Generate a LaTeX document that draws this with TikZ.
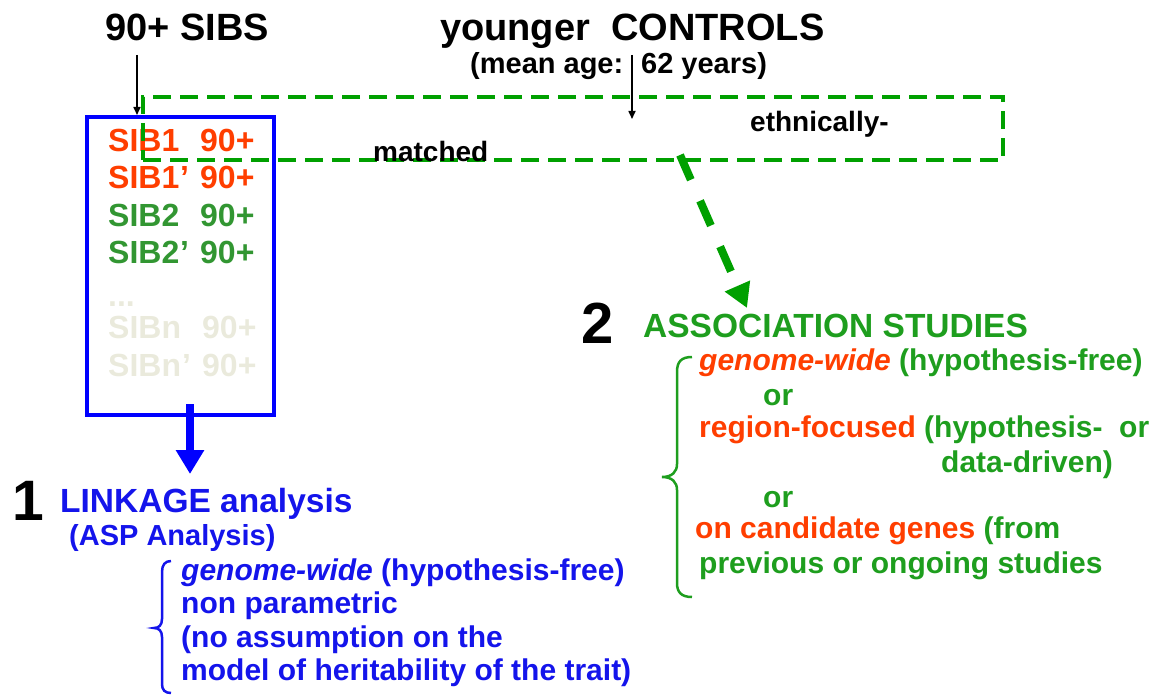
\documentclass[tikz,border=0pt]{standalone}
\usepackage{fontspec}
\setmainfont{Liberation Sans}
\usetikzlibrary{arrows.meta}
\definecolor{sibred}{RGB}{255,62,0}
\definecolor{sibgreen}{RGB}{50,150,50}
\definecolor{faded}{RGB}{234,234,220}
\definecolor{assocgreen}{RGB}{30,158,30}
\definecolor{dashgreen}{RGB}{0,160,0}
\definecolor{linkblue}{RGB}{20,20,235}
\newcommand{\fs}[1]{\fontsize{#1}{#1}\selectfont\bfseries}
\tikzset{
  tx/.style={inner sep=0pt, anchor=base west},
  sib/.style={tx, font=\fs{32}},
  rline/.style={tx, font=\fs{30}, text=assocgreen},
  lline/.style={tx, font=\fs{30}, text=linkblue},
  blackarrow/.style={draw=black, line width=1.6pt, -{Triangle[width=7pt,length=8pt]}},
}
\begin{document}
\begin{tikzpicture}[x=1pt,y=-1pt]
\useasboundingbox (0,0) rectangle (1154,695);
% titles
\node[tx, font=\fs{38}] (sibs) at (105,41) {90+ SIBS};
\node[tx, font=\fs{38}] (ctrl) at (440,41) {younger\ \ CONTROLS};
\node[tx, font=\fs{29}] (mean1) at (470,74) {(mean age:};
\node[tx, font=\fs{29}] (mean2) at (641,74) {62 years)};
% blue box
\node[draw=blue, line width=4pt, minimum width=187pt, minimum height=298pt, inner sep=0pt] (box) at (180.5,266) {};
% SIB lines
\node[sib, text=sibred] (s1) at (108,151.5) {\makebox[92pt][l]{SIB1}90+};
\node[sib, text=sibred] (s1p) at (108,188.5) {\makebox[72pt][l]{SIB1}\makebox[20pt][l]{’}90+};
\node[sib, text=sibgreen] (s2) at (108,226.5) {\makebox[92pt][l]{SIB2}90+};
\node[sib, text=sibgreen] (s2p) at (108,263.5) {\makebox[72pt][l]{SIB2}\makebox[20pt][l]{’}90+};
\node[sib, text=faded] (dots) at (108,306) {...};
\node[sib, text=faded] (sn) at (108,338.5) {\makebox[94pt][l]{SIBn}90+};
\node[sib, text=faded] (snp) at (108,376.5) {\makebox[74pt][l]{SIBn}\makebox[20pt][l]{’}90+};
% green dashed rectangle
\node[draw=dashgreen, line width=4pt, dash pattern=on 18pt off 9pt, minimum width=860pt, minimum height=63pt, inner sep=0pt] (match) at (573,128.5) {};
\node[tx, font=\fs{28}] (eth) at (750,132) {ethnically-};
\node[tx, font=\fs{28}] (mat) at (373,162) {matched};
% black arrows
\coordinate (a1) at (137,55);
\draw[blackarrow] (a1) -- (a1 |- box.north);
\coordinate (c1) at (632,55);
\coordinate (c2) at (632,119);
\draw[blackarrow] (c1) -- (c2);
% association
\node[tx, font=\fs{58}] (two) at (581,343) {2};
\node[tx, font=\fs{33.5}, text=assocgreen] (assoc) at (643,337) {ASSOCIATION STUDIES};
\coordinate (g1) at (680,155);
\coordinate (g2) at (747,308);
\draw[draw=dashgreen, line width=8pt, dash pattern=on 27pt off 23pt, -{Triangle[width=26pt,length=24pt,fill=dashgreen]}] (g1) -- (g2);
\node[rline] (r1) at (699,370) {\textcolor{sibred}{\itshape genome-wide} (hypothesis-free)};
\node[rline] (r2) at (763,405) {or};
\node[rline] (r3) at (699,437) {\textcolor{sibred}{region-focused} (hypothesis-\ \ or};
\node[rline] (r4) at (941,472) {data-driven)};
\node[rline] (r5) at (763,507) {or};
\node[rline] (r6) at (695,538) {\textcolor{sibred}{on candidate genes} (from};
\node[rline] (r7) at (699,573) {previous or ongoing studies};
\draw[assocgreen, line width=2.5pt] (692,357) .. controls (681,357) and (677,362) .. (677,372) -- (677,464) .. controls (677,472) and (672,477) .. (662,477) .. controls (672,477) and (677,482) .. (677,490) -- (677,583) .. controls (677,592) and (681,597) .. (692,597);
% linkage
\coordinate (b1) at (190,404);
\coordinate (b2) at (190,474);
\draw[draw=blue, line width=8pt, -{Triangle[width=27pt,length=24pt]}] (b1) -- (b2);
\node[tx, font=\fs{57}] (one) at (12,520) {1};
\node[tx, font=\fs{33.5}, text=linkblue] (link) at (60,512) {LINKAGE analysis};
\node[tx, font=\fs{29}, text=linkblue] (asp) at (69,545) {(ASP Analysis)};
\node[lline] (l1) at (181,580) {{\itshape genome-wide} (hypothesis-free)};
\node[lline] (l2) at (181,613) {non parametric};
\node[lline] (l3) at (181,647) {(no assumption on the};
\node[lline] (l4) at (181,680) {model of heritability of the trait)};
\draw[linkblue, line width=2.5pt] (171,561) .. controls (165,561) and (162,565) .. (162,572) -- (162,619) .. controls (162,625) and (159,628) .. (154,628) .. controls (159,628) and (162,631) .. (162,637) -- (162,684) .. controls (162,690) and (165,693) .. (171,693);
\end{tikzpicture}
\end{document}
